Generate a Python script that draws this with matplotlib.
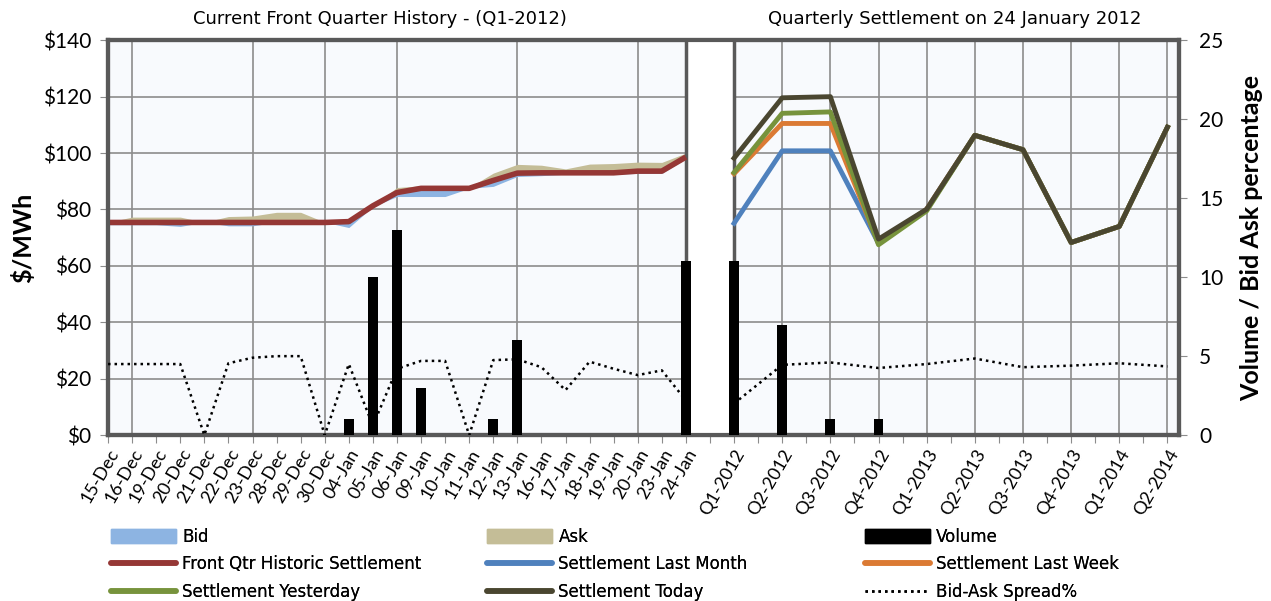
import numpy as np
import pandas as pd
import matplotlib
matplotlib.use('Agg')
import matplotlib.pyplot as plt
from matplotlib.patches import Patch
from matplotlib.lines import Line2D

# --- datos ---
fechas = ['15-Dec', '16-Dec', '19-Dec', '20-Dec', '21-Dec', '22-Dec', '23-Dec', '28-Dec',
          '29-Dec', '30-Dec', '04-Jan', '05-Jan', '06-Jan', '09-Jan', '10-Jan', '11-Jan',
          '12-Jan', '13-Jan', '16-Jan', '17-Jan', '18-Jan', '19-Jan', '20-Jan', '23-Jan', '24-Jan']
anios = [2011] * 10 + [2012] * 15

bid = [74.6, 74.6, 74.6, 74.0, 75.5, 74.2, 74.2, 75.5, 75.5, 75.5, 73.6, 81.0, 84.6,
       84.6, 84.6, 87.5, 88.2, 91.7, 92.0, 92.5, 92.5, 92.5, 92.8, 92.8, 98.0]
ask = [75.5, 77.3, 77.3, 77.3, 75.5, 77.5, 77.7, 79.0, 79.0, 75.5, 75.7, 81.5, 87.8,
       88.4, 88.2, 87.8, 92.9, 96.0, 95.7, 94.4, 96.1, 96.3, 96.8, 96.7, 100.0]
historico = [75.4, 75.4, 75.4, 75.4, 75.4, 75.4, 75.4, 75.4, 75.4, 75.4, 75.7, 81.3, 86.0,
             87.5, 87.5, 87.5, 90.3, 92.9, 93.0, 93.0, 93.0, 93.0, 93.6, 93.6, 98.6]
vol_hist = [0, 0, 0, 0, 0, 0, 0, 0, 0, 0, 1, 10, 13, 3, 0, 0, 1, 6, 0, 0, 0, 0, 0, 0, 11]
spread_hist = [4.5, 4.5, 4.5, 4.5, 0.0, 4.55, 4.9, 5.0, 5.0, 0.0, 4.5, 0.6, 4.2, 4.7, 4.7,
               0.0, 4.75, 4.8, 4.3, 2.85, 4.65, 4.2, 3.8, 4.1, 2.2]

trimestres = ['Q1-2012', 'Q2-2012', 'Q3-2012', 'Q4-2012', 'Q1-2013', 'Q2-2013',
              'Q3-2013', 'Q4-2013', 'Q1-2014', 'Q2-2014']
sett_mes = [75.1, 100.8, 100.8, 68.0, 80.1, 106.3, 101.2, 68.3, 74.0, 109.2]
sett_semana = [92.7, 110.5, 110.5, 68.0, 80.1, 106.3, 101.2, 68.3, 74.0, 109.2]
sett_ayer = [93.1, 114.1, 114.6, 67.5, 79.5, 106.3, 101.2, 68.3, 74.0, 109.2]
sett_hoy = [98.2, 119.6, 120.0, 69.5, 80.1, 106.3, 101.2, 68.3, 74.0, 109.2]
vol_q = [11, 7, 1, 1, 0, 0, 0, 0, 0, 0]
spread_q = [2.0, 4.45, 4.6, 4.25, 4.5, 4.85, 4.3, 4.4, 4.55, 4.35]

# posiciones de categoria: fechas, un hueco, luego trimestres cada 2
n = len(fechas)
x_h = np.arange(n)
x_q = n + 1 + 2 * np.arange(len(trimestres))
n_total = x_q[-1] + 1

# lineas verticales los viernes
dias = pd.to_datetime([f'{f}-{a}' for f, a in zip(fechas, anios)], format='%d-%b-%Y')
viernes = [i for i, d in enumerate(dias) if d.weekday() == 4]

BORDE = '#595959'
GRID = '#8C8C8C'
TICKFONT = ['Lato', 'DejaVu Sans']

plt.rcParams['font.family'] = ['DejaVu Sans']

fig = plt.figure(figsize=(12.71, 6.01), dpi=100)
ax = fig.add_axes([0.085, 0.276, 0.843, 0.657])
ax.set_facecolor('#F8FAFD')
ax2 = ax.twinx()

ax.set_xlim(0, x_q[-1] + 0.5)
ax.set_ylim(0, 140)
ax2.set_ylim(0, 25)

# grid
for v in range(20, 140, 20):
    ax.axhline(v, color=GRID, lw=1.2, zorder=1)
for xv in viernes + list(x_q[1:]):
    ax.axvline(xv, color=GRID, lw=1.2, zorder=1)

# bid / ask
ax.fill_between(x_h, bid, historico, color='#8DB4E2', lw=0, zorder=2)
ax.fill_between(x_h, historico, ask, color='#C4BD97', lw=0, zorder=2)
ax.plot(x_h, historico, color='#953735', lw=4, solid_capstyle='butt', zorder=4)

# hueco blanco entre los dos paneles
ax.axvspan(n - 1, n + 1, color='white', zorder=3)
ax.axvline(n - 1, color=BORDE, lw=2.5, zorder=3)
ax.axvline(n + 1, color=BORDE, lw=2.5, zorder=3)

ax.plot(x_q, sett_mes, color='#4F81BD', lw=3.5, zorder=4)
ax.plot(x_q, sett_semana, color='#DB7A34', lw=3.5, zorder=4)
ax.plot(x_q, sett_ayer, color='#77933C', lw=3.5, zorder=4)
ax.plot(x_q, sett_hoy, color='#4A4630', lw=3.5, zorder=4)

# volumen y spread (eje derecho)
ax2.bar(x_h, vol_hist, width=0.41, color='black', zorder=3)
ax2.bar(x_q, vol_q, width=0.41, color='black', zorder=3)
ax2.plot(x_h, spread_hist, color='black', lw=1.8, ls=(0, (1, 1.6)), zorder=4)
ax2.plot(x_q, spread_q, color='black', lw=1.8, ls=(0, (1, 1.6)), zorder=4)

# ejes
for a in (ax, ax2):
    for s in a.spines.values():
        s.set_color(BORDE)
        s.set_linewidth(3)
ax.set_yticks(range(0, 141, 20))
ax.set_yticklabels([f'${v}' for v in range(0, 141, 20)], fontsize=15, family=TICKFONT)
ax2.set_yticks(range(0, 26, 5))
ax2.set_yticklabels([str(v) for v in range(0, 26, 5)], fontsize=15, family=TICKFONT)
ax.tick_params(axis='y', length=6, color=GRID, pad=6)
ax2.tick_params(axis='y', length=6, color=GRID, pad=8)

etiquetas = [''] * n_total
for i, f in enumerate(fechas):
    etiquetas[x_h[i]] = f
for i, q in enumerate(trimestres):
    etiquetas[x_q[i]] = q
ax.set_xticks(np.arange(n_total))
ax.set_xticklabels(etiquetas, rotation=60, ha='right', rotation_mode='anchor', fontsize=13,
                   family=TICKFONT)
ax.tick_params(axis='x', length=6, color=GRID, pad=2)

ax.set_ylabel('$/MWh', fontsize=18, fontweight='bold', labelpad=6, family=TICKFONT)
ax2.set_ylabel('Volume / Bid Ask percentage', fontsize=18, fontweight='bold', labelpad=12,
               family=TICKFONT)

fig.text(0.299, 0.968, 'Current Front Quarter History - (Q1-2012)', ha='center', va='center',
         fontsize=13)
fig.text(0.751, 0.968, 'Quarterly Settlement on 24 January 2012', ha='center', va='center',
         fontsize=13)

# leyenda: tres columnas colocadas a mano
h_bid = Patch(color='#8DB4E2', label='Bid')
h_ask = Patch(color='#C4BD97', label='Ask')
h_vol = Patch(color='black', label='Volume')
h_his = Line2D([], [], color='#953735', lw=4, solid_capstyle='round', label='Front Qtr Historic Settlement')
h_mes = Line2D([], [], color='#4F81BD', lw=4, solid_capstyle='round', label='Settlement Last Month')
h_sem = Line2D([], [], color='#DB7A34', lw=4, solid_capstyle='round', label='Settlement Last Week')
h_aye = Line2D([], [], color='#77933C', lw=4, solid_capstyle='round', label='Settlement Yesterday')
h_hoy = Line2D([], [], color='#4A4630', lw=4, solid_capstyle='round', label='Settlement Today')
h_spr = Line2D([], [], color='black', lw=1.8, ls=(0, (1, 1.6)), label='Bid-Ask Spread%')
columnas = [[h_bid, h_his, h_aye], [h_ask, h_mes, h_hoy], [h_vol, h_sem, h_spr]]
for xc, hs in zip([0.0818, 0.3777, 0.675], columnas):
    leg = fig.legend(handles=hs, ncol=1, loc='upper left', bbox_to_anchor=(xc, 0.133),
                     frameon=False, handlelength=3.9, handleheight=0.9, labelspacing=0.58,
                     handletextpad=0.4, borderaxespad=0, prop={'size': 12})
    fig.add_artist(leg)

fig.savefig('out.png', dpi=100)
